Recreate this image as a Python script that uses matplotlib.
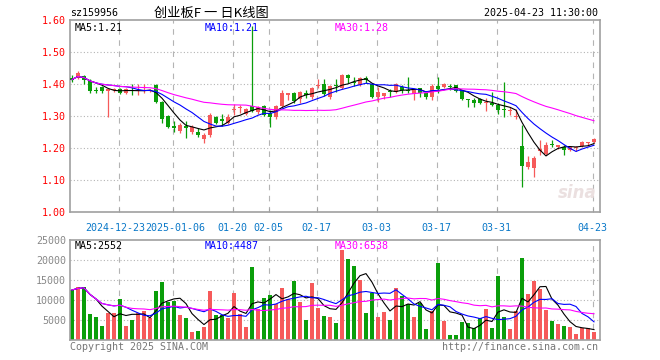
import matplotlib.pyplot as plt
import matplotlib.transforms as mtransforms
import numpy as np
import pandas as pd

plt.rcParams['font.family'] = ['DejaVu Sans Mono', 'Noto Sans CJK SC']

# daily K-line data, 2024-12-11 .. 2025-04-23
opens = [1.418, 1.418, 1.426, 1.410, 1.381, 1.390, 1.377, 1.380, 1.383, 1.371,
         1.382, 1.378, 1.378, 1.377, 1.397, 1.345, 1.300, 1.268, 1.254, 1.269,
         1.251, 1.251, 1.227, 1.241, 1.298, 1.290, 1.279, 1.320, 1.324, 1.305,
         1.331, 1.314, 1.331, 1.308, 1.296, 1.331, 1.367, 1.373, 1.352, 1.373,
         1.360, 1.395, 1.399, 1.360, 1.397, 1.386, 1.428, 1.407, 1.397, 1.418,
         1.400, 1.360, 1.362, 1.378, 1.374, 1.392, 1.381, 1.369, 1.386, 1.371,
         1.360, 1.394, 1.392, 1.392, 1.397, 1.379, 1.352, 1.350, 1.352, 1.342,
         1.342, 1.334, 1.323, 1.317, 1.298, 1.206, 1.140, 1.136, 1.192, 1.180,
         1.212, 1.202, 1.204, 1.194, 1.199, 1.206, 1.215, 1.220]
highs = [1.428, 1.441, 1.428, 1.415, 1.392, 1.393, 1.385, 1.386, 1.386, 1.386,
         1.400, 1.400, 1.400, 1.383, 1.400, 1.348, 1.302, 1.283, 1.277, 1.285,
         1.272, 1.261, 1.248, 1.308, 1.300, 1.306, 1.305, 1.337, 1.334, 1.324,
         1.580, 1.331, 1.334, 1.319, 1.335, 1.381, 1.373, 1.376, 1.379, 1.381,
         1.392, 1.416, 1.416, 1.396, 1.416, 1.431, 1.431, 1.421, 1.421, 1.425,
         1.404, 1.390, 1.373, 1.383, 1.404, 1.397, 1.423, 1.383, 1.386, 1.376,
         1.400, 1.423, 1.404, 1.400, 1.397, 1.381, 1.352, 1.355, 1.355, 1.355,
         1.376, 1.340, 1.407, 1.329, 1.321, 1.272, 1.176, 1.176, 1.225, 1.220,
         1.225, 1.209, 1.209, 1.204, 1.206, 1.222, 1.220, 1.230]
lows = [1.406, 1.415, 1.400, 1.373, 1.371, 1.371, 1.298, 1.376, 1.368, 1.369,
        1.366, 1.366, 1.372, 1.374, 1.342, 1.277, 1.261, 1.251, 1.246, 1.230,
        1.244, 1.235, 1.215, 1.233, 1.276, 1.269, 1.275, 1.303, 1.310, 1.302,
        1.313, 1.305, 1.300, 1.267, 1.290, 1.324, 1.350, 1.342, 1.340, 1.355,
        1.352, 1.386, 1.362, 1.352, 1.376, 1.383, 1.404, 1.394, 1.394, 1.404,
        1.355, 1.345, 1.352, 1.360, 1.371, 1.371, 1.371, 1.350, 1.360, 1.352,
        1.350, 1.371, 1.389, 1.381, 1.376, 1.350, 1.329, 1.327, 1.337, 1.317,
        1.332, 1.306, 1.298, 1.303, 1.290, 1.079, 1.134, 1.110, 1.178, 1.178,
        1.204, 1.196, 1.178, 1.192, 1.192, 1.202, 1.206, 1.217]
closes = [1.414, 1.433, 1.413, 1.379, 1.378, 1.379, 1.383, 1.382, 1.371, 1.383,
          1.379, 1.381, 1.381, 1.381, 1.345, 1.290, 1.267, 1.264, 1.272, 1.261,
          1.267, 1.241, 1.241, 1.303, 1.279, 1.285, 1.298, 1.322, 1.327, 1.321,
          1.317, 1.329, 1.303, 1.298, 1.331, 1.371, 1.371, 1.348, 1.374, 1.366,
          1.389, 1.398, 1.368, 1.394, 1.394, 1.428, 1.418, 1.404, 1.418, 1.413,
          1.360, 1.375, 1.373, 1.374, 1.400, 1.381, 1.378, 1.383, 1.373, 1.360,
          1.394, 1.383, 1.400, 1.390, 1.379, 1.352, 1.350, 1.342, 1.342, 1.345,
          1.334, 1.319, 1.319, 1.319, 1.300, 1.144, 1.157, 1.170, 1.196, 1.209,
          1.209, 1.209, 1.194, 1.202, 1.202, 1.220, 1.217, 1.228]
volumes = [12500, 13300, 13300, 6500, 5700, 3500, 6700, 6700, 10200, 3500,
           5000, 6700, 7200, 5400, 12200, 14500, 9600, 9700, 6200, 5500,
           2000, 2300, 3300, 12200, 6200, 6200, 5500, 11700, 6500, 3300,
           18300, 7800, 10500, 11200, 9000, 13000, 10200, 14800, 9600, 5000,
           14300, 8100, 6000, 5700, 4200, 22500, 20200, 18500, 15000, 6800,
           11800, 5700, 7000, 5000, 13000, 11000, 9000, 5700, 9200, 2700,
           7200, 19200, 4800, 1250, 1250, 4600, 4200, 2900, 5400, 7700,
           2900, 16000, 5700, 2700, 7200, 20500, 11500, 14700, 12700, 7500,
           4700, 4000, 3500, 3200, 1500, 3100, 3100, 2100]

date_pos = [8, 17, 27, 33, 41, 51, 61, 71, 87]
date_labels = ['2024-12-23', '2025-01-06', '01-20', '02-05', '02-17',
               '03-03', '03-17', '03-31', '04-23']
price_ticks = [1.00, 1.10, 1.20, 1.30, 1.40, 1.50, 1.60]
vol_ticks = [5000, 10000, 15000, 20000, 25000]

RED = '#f65a5a'
GREEN = '#0a9e0a'
GRID = '#b4b4b4'
FRAME = '#a0a0a0'

W, H = 660, 360


def fx(x):
    return x / W


def fy(y):
    return 1 - y / H


fig = plt.figure(figsize=(6.6, 3.6), dpi=100)
ax = fig.add_axes([fx(70), fy(212), 530 / W, 192 / H])
axv = fig.add_axes([fx(70), fy(340), 530 / W, 100 / H])

n = len(closes)
idx = np.arange(n)
o = np.array(opens)
c = np.array(closes)
colors = np.where(c >= o, RED, GREEN)

# grid
grid_x = [d - 0.2 for d in date_pos]
for a in (ax, axv):
    for gx in grid_x:
        a.axvline(gx, color=GRID, lw=0.8, ls=(0, (5, 5)), zorder=0)
for p in price_ticks[1:-1]:
    ax.axhline(p, color=GRID, lw=0.8, ls=(0, (1, 2)), zorder=0)
for v in vol_ticks[:-1]:
    axv.axhline(v, color=GRID, lw=0.8, ls=(0, (1, 2)), zorder=0)

# candles
ax.vlines(idx, lows, highs, colors=colors, lw=0.9, zorder=2)
ax.bar(idx, np.maximum(np.abs(c - o), 0.003), bottom=np.minimum(o, c),
       width=0.7, color=colors, lw=0, zorder=3)

cs = pd.Series(closes)
ax.plot(idx, cs.rolling(5, min_periods=1).mean(), color='black', lw=0.8, zorder=4)
ax.plot(idx, cs.rolling(10, min_periods=1).mean(), color='#0000ff', lw=0.8, zorder=4)
ax.plot(idx, cs.rolling(30, min_periods=1).mean(), color='#ff00ff', lw=0.8, zorder=4)

# volume
axv.bar(idx, volumes, width=0.8, color=colors, lw=0, zorder=2)
vs = pd.Series(volumes)
axv.plot(idx, vs.rolling(5, min_periods=1).mean(), color='black', lw=0.8, zorder=4)
axv.plot(idx, vs.rolling(10, min_periods=1).mean(), color='#0000ff', lw=0.8, zorder=4)
axv.plot(idx, vs.rolling(30, min_periods=1).mean(), color='#ff00ff', lw=0.8, zorder=4)

for a in (ax, axv):
    a.set_xlim(-0.33, 88)
    for s in a.spines.values():
        s.set_color(FRAME)
        s.set_linewidth(1.2)

ax.set_ylim(1.00, 1.60)
ax.set_yticks(price_ticks)
ax.set_yticklabels([f'{p:.2f}' for p in price_ticks])
ax.tick_params(axis='y', length=0, pad=3, labelcolor='red', labelsize=7.2)
ax.set_xticks(grid_x)
ax.set_xticklabels([])
ax.tick_params(axis='x', direction='in', length=3, color=FRAME)

# date labels; the first two sit very close, nudge them apart a little
trans = mtransforms.blended_transform_factory(ax.transData, ax.transAxes)
nudge = [-0.55, 0.45, 0, 0, 0, 0, 0, 0, 0]
for gx, lbl, dx in zip(grid_x, date_labels, nudge):
    ax.text(gx + dx, -0.083, lbl, transform=trans, ha='center', va='center',
            fontsize=7.2, color='#0a78c8')

axv.set_ylim(0, 25000)
axv.set_yticks(vol_ticks)
axv.set_yticklabels([str(v) for v in vol_ticks])
axv.tick_params(axis='y', length=0, pad=3, labelcolor='#888888', labelsize=7.2)
axv.set_xticks([])

# header and legends
fs = 7.2
fig.text(fx(70), fy(13), 'sz159956', fontsize=fs, va='center', ha='left')
fig.text(fx(211), fy(13), '创业板F 一 日K线图', fontsize=9.5, va='center', ha='center',
         family=['Noto Sans CJK SC', 'DejaVu Sans'])
fig.text(fx(598), fy(13), '2025-04-23 11:30:00', fontsize=fs, va='center', ha='right')

fig.text(fx(75), fy(28), 'MA5:1.21', fontsize=fs, va='center', color='black')
fig.text(fx(205), fy(28), 'MA10:1.21', fontsize=fs, va='center', color='#0000ff')
fig.text(fx(335), fy(28), 'MA30:1.28', fontsize=fs, va='center', color='#ff00ff')

fig.text(fx(75), fy(246), 'MA5:2552', fontsize=fs, va='center', color='black')
fig.text(fx(205), fy(246), 'MA10:4487', fontsize=fs, va='center', color='#0000ff')
fig.text(fx(335), fy(246), 'MA30:6538', fontsize=fs, va='center', color='#ff00ff')

fig.text(fx(70), fy(347), 'Copyright 2025 SINA.COM', fontsize=fs, va='center',
         ha='left', color='#777777')
fig.text(fx(598), fy(347), 'http://finance.sina.com.cn', fontsize=fs, va='center',
         ha='right', color='#777777')

# faint sina watermark
fig.text(fx(577), fy(193), 'sina', fontsize=12, va='center', ha='center',
         color='#ebe0e0', style='italic', weight='bold', family='DejaVu Sans')

fig.savefig('out.png', dpi=100)
